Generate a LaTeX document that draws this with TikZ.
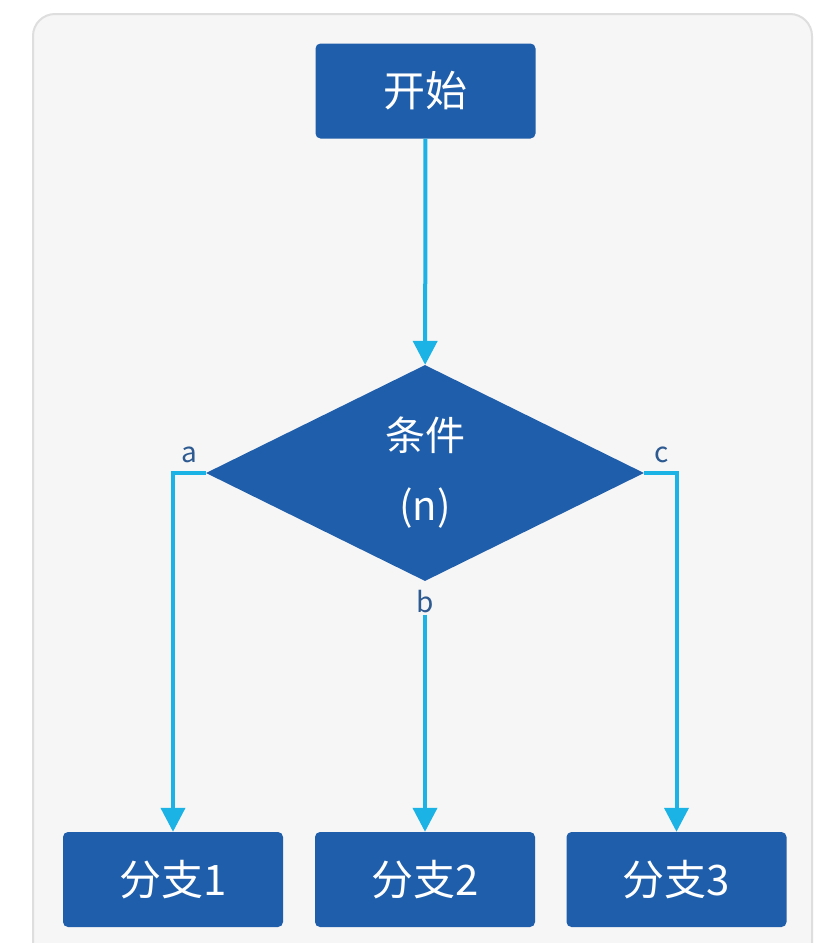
\documentclass[tikz,border=0pt]{standalone}
\usepackage{fontspec}
\newfontfamily\cjk{Noto Sans CJK SC}
\usetikzlibrary{arrows.meta,shapes.geometric}
\definecolor{boxblue}{RGB}{31,94,170}
\definecolor{linecyan}{RGB}{27,178,230}
\definecolor{panel}{RGB}{246,246,246}
\definecolor{panelborder}{RGB}{222,222,222}
\definecolor{lbl}{RGB}{45,90,145}
\begin{document}
\begin{tikzpicture}[x=1pt,y=-1pt,
  stepbox/.style={rectangle, fill=boxblue, rounded corners=5pt, minimum width=220pt, minimum height=95pt, inner sep=0pt, text=white, font=\cjk\fontsize{42}{50}\selectfont},
  decision/.style={diamond, fill=boxblue, minimum width=438pt, minimum height=216pt, inner sep=0pt, text=white, align=center, font=\cjk\fontsize{40}{70}\selectfont},
  conn/.style={draw=linecyan, line width=4pt, -{Triangle[width=24pt,length=24pt]}},
  branchlbl/.style={text=lbl, inner sep=1pt, font=\cjk\fontsize{28}{30}\selectfont}]
\useasboundingbox (0,0) rectangle (817,943);
\clip (0,0) rectangle (817,943);
\fill[white] (0,0) rectangle (817,943);
\draw[panelborder, fill=panel, line width=2pt, rounded corners=22pt] (33,14) rectangle (812,980);

\node[stepbox] (start) at (425.5,91) {开始};
\node[decision] (dia) at (425,473) {条件\\(n)};
\node[stepbox] (b1) at (173,879.5) {分支1};
\node[stepbox] (b2) at (425,879.5) {分支2};
\node[stepbox] (b3) at (676.5,879.5) {分支3};

\node[branchlbl] (la) at (189,455) {a};
\node[branchlbl] (lc) at (662,455) {c};
\node[branchlbl] (lb) at (425,602) {b};

\draw[conn] (start) -- (dia);
\draw[conn] (dia.west) -| (b1);
\draw[conn] (dia.east) -| (b3);
\draw[conn] (lb.south) -- (b2);
\end{tikzpicture}
\end{document}
